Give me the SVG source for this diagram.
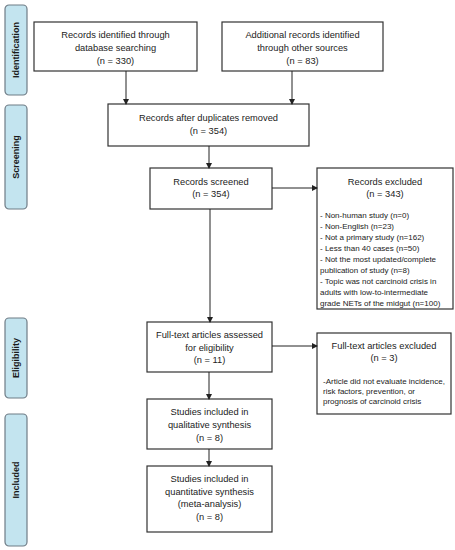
<svg xmlns="http://www.w3.org/2000/svg" width="455" height="550" viewBox="0 0 455 550">
<defs>
<marker id="ah" markerWidth="6" markerHeight="6" refX="5" refY="3" orient="auto" markerUnits="userSpaceOnUse">
<path d="M0,0 L6,3 L0,6 Z" fill="#222"/>
</marker>
<style>
.box{fill:#fff;stroke:#333;stroke-width:1.2}
.lab{fill:#c3e4ef;stroke:#6f7c86;stroke-width:1.2}
.t{font-family:"Liberation Sans",Arial,sans-serif;font-size:9.3px;fill:#222;text-anchor:middle;dominant-baseline:central}
.s{font-family:"Liberation Sans",Arial,sans-serif;font-size:8px;fill:#222;dominant-baseline:central}
.lt{font-family:"Liberation Sans",Arial,sans-serif;font-size:9px;font-weight:bold;fill:#1a1a1a;text-anchor:middle;dominant-baseline:central}
.c{stroke:#222;stroke-width:1;fill:none;marker-end:url(#ah)}
</style>
</defs>
<g id="stage-identification"><rect class="lab" x="5" y="5" width="22" height="90" rx="4"/><text class="lt" transform="translate(16,50) rotate(-90)">Identification</text></g>
<g id="stage-screening"><rect class="lab" x="5" y="105" width="22" height="104" rx="4"/><text class="lt" transform="translate(16,157) rotate(-90)">Screening</text></g>
<g id="stage-eligibility"><rect class="lab" x="5" y="318" width="22" height="80" rx="4"/><text class="lt" transform="translate(16,358) rotate(-90)">Eligibility</text></g>
<g id="stage-included"><rect class="lab" x="5" y="414" width="22" height="132" rx="4"/><text class="lt" transform="translate(16,480) rotate(-90)">Included</text></g>

<g id="db-search"><rect class="box" x="34" y="22" width="163" height="49"/>
<text class="t" x="115.5" y="35">Records identified through</text>
<text class="t" x="115.5" y="48">database searching</text>
<text class="t" x="115.5" y="61">(n = 330)</text></g>
<g id="other-sources"><rect class="box" x="222" y="22" width="161" height="49"/>
<text class="t" x="302.5" y="35">Additional records identified</text>
<text class="t" x="302.5" y="48">through other sources</text>
<text class="t" x="302.5" y="61">(n = 83)</text></g>
<g id="dedup"><rect class="box" x="108" y="104" width="201" height="42"/>
<text class="t" x="208.5" y="118">Records after duplicates removed</text>
<text class="t" x="208.5" y="131">(n = 354)</text></g>
<g id="screened"><rect class="box" x="150" y="168" width="122" height="41"/>
<text class="t" x="211" y="182">Records screened</text>
<text class="t" x="211" y="194">(n = 354)</text></g>
<g id="excluded"><rect class="box" x="317" y="168" width="136" height="141"/>
<text class="t" x="385" y="182">Records excluded</text>
<text class="t" x="385" y="194">(n = 343)</text>
<text class="s" x="320" y="215">- Non-human study (n=0)</text>
<text class="s" x="320" y="226">- Non-English (n=23)</text>
<text class="s" x="320" y="237">- Not a primary study (n=162)</text>
<text class="s" x="320" y="248">- Less than 40 cases (n=50)</text>
<text class="s" x="320" y="259">- Not the most updated/complete</text>
<text class="s" x="320" y="270">publication of study (n=8)</text>
<text class="s" x="320" y="281">- Topic was not carcinoid crisis in</text>
<text class="s" x="320" y="292">adults with low-to-intermediate</text>
<text class="s" x="320" y="303">grade NETs of the midgut (n=100)</text></g>
<g id="fulltext"><rect class="box" x="147" y="322" width="125" height="50"/>
<text class="t" x="209.5" y="335">Full-text articles assessed</text>
<text class="t" x="209.5" y="348">for eligibility</text>
<text class="t" x="209.5" y="360">(n = 11)</text></g>
<g id="fulltext-excluded"><rect class="box" x="317" y="333" width="134" height="81"/>
<text class="t" x="384" y="346">Full-text articles excluded</text>
<text class="t" x="384" y="358">(n = 3)</text>
<text class="s" x="323" y="381">-Article did not evaluate incidence,</text>
<text class="s" x="323" y="391">risk factors, prevention, or</text>
<text class="s" x="323" y="401">prognosis of carcinoid crisis</text></g>
<g id="qualitative"><rect class="box" x="147" y="399" width="125" height="50"/>
<text class="t" x="209.5" y="412">Studies included in</text>
<text class="t" x="209.5" y="425">qualitative synthesis</text>
<text class="t" x="209.5" y="438">(n = 8)</text></g>
<g id="quantitative"><rect class="box" x="147" y="466" width="125" height="66"/>
<text class="t" x="209.5" y="479">Studies included in</text>
<text class="t" x="209.5" y="492">quantitative synthesis</text>
<text class="t" x="209.5" y="504">(meta-analysis)</text>
<text class="t" x="209.5" y="517">(n = 8)</text></g>

<g id="connectors">
<path class="c" d="M126,71 V104"/>
<path class="c" d="M292,71 V104"/>
<path class="c" d="M209,146 V168"/>
<path class="c" d="M272,188 H317"/>
<path class="c" d="M210,209 V322"/>
<path class="c" d="M272,346 H317"/>
<path class="c" d="M209,372 V399"/>
<path class="c" d="M209,449 V466"/>
</g>
</svg>
